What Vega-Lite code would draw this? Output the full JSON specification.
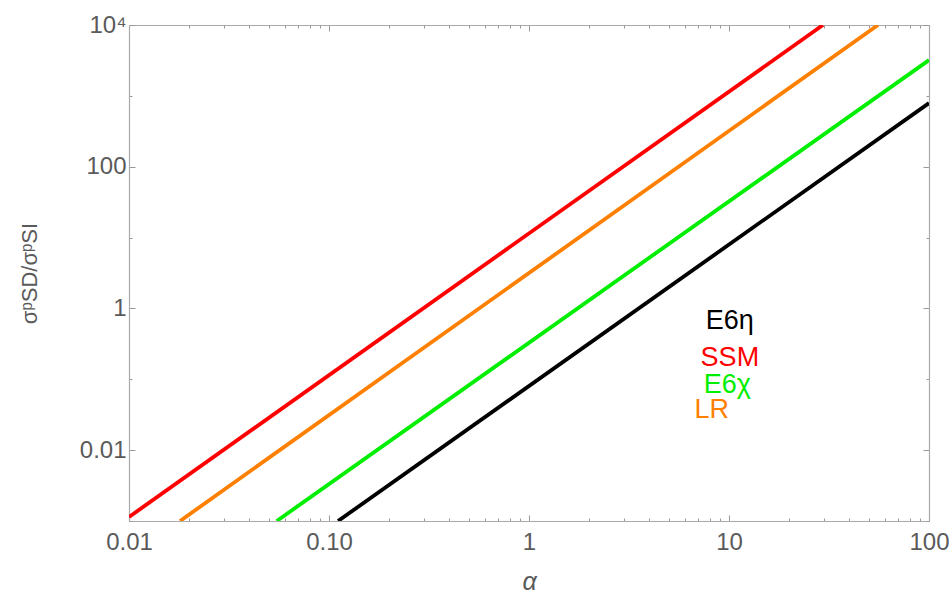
{
  "$schema": "https://vega.github.io/schema/vega-lite/v6.json",
  "width": 800,
  "height": 496,
  "autosize": {"type": "none"},
  "padding": {"left": 129, "top": 25, "right": 20, "bottom": 77},
  "background": "white",
  "config": {
    "view": {"stroke": null},
    "font": "Liberation Sans",
    "axis": {
      "grid": false,
      "domainColor": "#aaaaaa",
      "domainWidth": 1.2,
      "tickColor": "#999999",
      "tickWidth": 1,
      "labelColor": "#5a5a5a",
      "labelFont": "Liberation Sans",
      "labelFontSize": 24,
      "titleColor": "#5a5a5a",
      "titleFont": "Liberation Sans",
      "titleFontWeight": "normal"
    }
  },
  "datasets": {
    "lines": [
      {"series": "SSM", "alpha": 0.01, "ratio": 0.00114},
      {"series": "SSM", "alpha": 29.5, "ratio": 10000},
      {"series": "LR", "alpha": 0.018, "ratio": 0.001},
      {"series": "LR", "alpha": 55.6, "ratio": 10000},
      {"series": "E6χ", "alpha": 0.0548, "ratio": 0.001},
      {"series": "E6χ", "alpha": 100, "ratio": 3200},
      {"series": "E6η", "alpha": 0.111, "ratio": 0.001},
      {"series": "E6η", "alpha": 100, "ratio": 790}
    ],
    "labels": [
      {"series": "E6η", "alpha": 10.1, "ratio": 0.665},
      {"series": "SSM", "alpha": 10.1, "ratio": 0.2},
      {"series": "E6χ", "alpha": 9.8, "ratio": 0.083},
      {"series": "LR", "alpha": 8.2, "ratio": 0.037}
    ]
  },
  "layer": [
    {
      "data": {"name": "lines"},
      "mark": {"type": "line", "strokeWidth": 3.8, "clip": true},
      "encoding": {
        "x": {
          "field": "alpha", "type": "quantitative",
          "scale": {"type": "log", "domain": [0.01, 100], "nice": false},
          "axis": {
            "orient": "bottom",
            "title": "α",
            "titleFontStyle": "italic",
            "titleFontSize": 25,
            "titlePadding": 12,
            "values": [0.01,0.02,0.03,0.04,0.05,0.06,0.07,0.08,0.09,0.1,0.2,0.3,0.4,0.5,0.6,0.7,0.8,0.9,1,2,3,4,5,6,7,8,9,10,20,30,40,50,60,70,80,90,100],
            "labelExpr": "datum.value == 0.01 ? '0.01' : datum.value == 0.1 ? '0.10' : datum.value == 1 ? '1' : datum.value == 10 ? '10' : datum.value == 100 ? '100' : ''",
            "labelPadding": 15,
            "labelFlush": false,
            "labelOverlap": false,
            "tickSize": {"condition": {"test": "indexof([0.01,0.1,1,10,100], datum.value) >= 0", "value": -6}, "value": -3}
          }
        },
        "y": {
          "field": "ratio", "type": "quantitative",
          "scale": {"type": "log", "domain": [0.001, 10000], "nice": false},
          "axis": {
            "orient": "left",
            "title": "σᵖSD/σᵖSI",
            "titleFontSize": 22,
            "titlePadding": 38,
            "values": [0.001,0.01,0.1,1,10,100,1000,10000],
            "labelExpr": "datum.value == 0.01 ? '0.01' : datum.value == 1 ? '1' : datum.value == 100 ? '100' : datum.value == 10000 ? '10⁴' : ''",
            "labelPadding": 9,
            "labelFlush": false,
            "labelOverlap": false,
            "tickSize": {"condition": {"test": "indexof([0.01,1,100,10000], datum.value) >= 0", "value": -6}, "value": -3}
          }
        },
        "color": {
          "field": "series", "type": "nominal",
          "scale": {"domain": ["SSM", "LR", "E6χ", "E6η"], "range": ["#ff0000", "#ff8000", "#00ee00", "#000000"]},
          "legend": null
        }
      }
    },
    {
      "data": {"name": "labels"},
      "mark": {"type": "text", "fontSize": 27, "font": "Liberation Sans"},
      "encoding": {
        "x": {"field": "alpha", "type": "quantitative", "axis": null},
        "y": {"field": "ratio", "type": "quantitative", "axis": null},
        "text": {"field": "series"},
        "color": {"field": "series", "type": "nominal", "legend": null}
      }
    },
    {
      "data": {"name": "lines"},
      "mark": {"type": "point", "opacity": 0},
      "encoding": {
        "x": {
          "field": "alpha", "type": "quantitative",
          "axis": {
            "orient": "top", "title": null, "labels": false,
            "values": [0.01,0.02,0.03,0.04,0.05,0.06,0.07,0.08,0.09,0.1,0.2,0.3,0.4,0.5,0.6,0.7,0.8,0.9,1,2,3,4,5,6,7,8,9,10,20,30,40,50,60,70,80,90,100],
            "tickSize": {"condition": {"test": "indexof([0.01,0.1,1,10,100], datum.value) >= 0", "value": -6}, "value": -3}
          }
        },
        "y": {
          "field": "ratio", "type": "quantitative",
          "axis": {
            "orient": "right", "title": null, "labels": false,
            "values": [0.001,0.01,0.1,1,10,100,1000,10000],
            "tickSize": {"condition": {"test": "indexof([0.01,1,100,10000], datum.value) >= 0", "value": -6}, "value": -3}
          }
        }
      }
    }
  ],
  "resolve": {"axis": {"x": "independent", "y": "independent"}}
}
